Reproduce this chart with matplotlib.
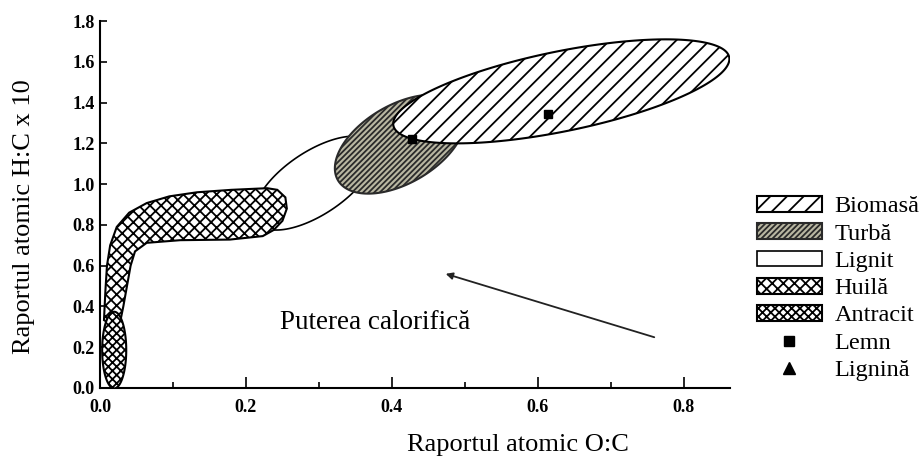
import numpy as np
import matplotlib
matplotlib.use('Agg')
import matplotlib.pyplot as plt
from matplotlib.patches import Polygon, Patch
from matplotlib.lines import Line2D

plt.rcParams['font.family'] = ['Liberation Serif', 'DejaVu Serif']
plt.rcParams['hatch.linewidth'] = 1.3

# Regions given as ellipses: centre, semi-axis vector 1, semi-axis vector 2 (data units)
biomasa_center = (0.632, 1.455)
biomasa_axis1 = (0.230, 0.168)
biomasa_axis2 = (-0.011, 0.192)

turba_center = (0.411, 1.196)
turba_axis1 = (0.085, 0.177)
turba_axis2 = (-0.027, 0.166)

lignit_center = (0.2945, 1.005)
lignit_axis1 = (0.080, 0.190)
lignit_axis2 = (-0.023, 0.130)

antracit_center = (0.0195, 0.186)
antracit_axis1 = (0.0165, 0.0)
antracit_axis2 = (0.0, 0.188)

# Huila band outline (O:C, H:C)
huila_x = [0.0055, 0.0075, 0.0096, 0.014, 0.023, 0.040, 0.064, 0.095, 0.133, 0.180, 0.229,
           0.243, 0.254, 0.256, 0.250, 0.238, 0.223,
           0.178, 0.110, 0.064, 0.048, 0.042, 0.037, 0.032, 0.028, 0.016]
huila_y = [0.333, 0.480, 0.600, 0.700, 0.790, 0.860, 0.907, 0.940, 0.960, 0.972, 0.980,
           0.972, 0.935, 0.880, 0.820, 0.775, 0.745,
           0.728, 0.725, 0.712, 0.670, 0.600, 0.500, 0.400, 0.330, 0.310]

# Lemn points
lemn_x = [0.427, 0.614]
lemn_y = [1.221, 1.343]

# Arrow (tail -> head)
arrow_tail = (0.763, 0.245)
arrow_head = (0.470, 0.564)

x_ticks = [0.0, 0.2, 0.4, 0.6, 0.8]
y_ticks = [0.0, 0.2, 0.4, 0.6, 0.8, 1.0, 1.2, 1.4, 1.6, 1.8]

legend_labels = ['Biomasă', 'Turbă', 'Lignit', 'Huilă', 'Antracit', 'Lemn', 'Lignină']


def ellipse_points(center, a1, a2, n=200):
    t = np.linspace(0, 2 * np.pi, n)
    x = center[0] + a1[0] * np.cos(t) + a2[0] * np.sin(t)
    y = center[1] + a1[1] * np.cos(t) + a2[1] * np.sin(t)
    return np.column_stack([x, y])


fig = plt.figure(figsize=(9.23, 4.59), dpi=100)
ax = fig.add_axes([0.1083, 0.1547, 0.6825, 0.7995])

style_biomasa = dict(facecolor='white', edgecolor='black', hatch='//', linewidth=1.5)
style_turba = dict(facecolor='#b9b7a2', edgecolor='#2a2a2a', hatch='//////', linewidth=1.5)
style_lignit = dict(facecolor='white', edgecolor='black', linewidth=1.2)
style_huila = dict(facecolor='white', edgecolor='black', hatch='xxx', linewidth=1.5)
style_antracit = dict(facecolor='white', edgecolor='black', hatch='xxxx', linewidth=1.5)

ax.add_patch(Polygon(ellipse_points(lignit_center, lignit_axis1, lignit_axis2), closed=True, zorder=1, **style_lignit))
ax.add_patch(Polygon(np.column_stack([huila_x, huila_y]), closed=True, zorder=2, **style_huila))
ax.add_patch(Polygon(ellipse_points(antracit_center, antracit_axis1, antracit_axis2), closed=True, zorder=3, **style_antracit))
ax.add_patch(Polygon(ellipse_points(turba_center, turba_axis1, turba_axis2), closed=True, zorder=3, **style_turba))
ax.add_patch(Polygon(ellipse_points(biomasa_center, biomasa_axis1, biomasa_axis2), closed=True, zorder=4, **style_biomasa))

ax.plot(lemn_x, lemn_y, 's', color='black', markersize=6, zorder=6)

ax.annotate('', xy=arrow_head, xytext=arrow_tail,
            arrowprops=dict(arrowstyle='-|>', color='#222222', lw=1.3, mutation_scale=10))
ax.text(0.247, 0.32, 'Puterea calorifică', fontsize=19.5, va='center', ha='left')

ax.set_xlim(0, 0.863)
ax.set_ylim(0, 1.8)
ax.spines['top'].set_visible(False)
ax.spines['right'].set_visible(False)
ax.spines['left'].set_linewidth(1.5)
ax.spines['bottom'].set_linewidth(1.5)
ax.set_xticks(x_ticks)
ax.set_xticks([0.1, 0.3, 0.5, 0.7], minor=True)
ax.set_yticks(y_ticks)
ax.set_xticklabels([f'{v:.1f}' for v in x_ticks], fontweight='bold', fontsize=13)
ax.set_yticklabels([f'{v:.1f}' for v in y_ticks], fontweight='bold', fontsize=13)
ax.tick_params(axis='x', which='major', direction='in', length=8, width=1.2, pad=8)
ax.tick_params(axis='x', which='minor', direction='in', length=4, width=1.2)
ax.tick_params(axis='y', which='major', direction='in', length=5, width=1.2, pad=4)

ax.set_xlabel('Raportul atomic O:C', fontsize=19)
ax.set_ylabel('Raportul atomic H:C x 10', fontsize=19)
ax.xaxis.set_label_coords((518 - 100) / 630, -(445 - 388) / 367)
ax.yaxis.set_label_coords(-(100 - 24) / 630, (388 - 217) / 367)
ax.xaxis.label.set_va('center')
ax.yaxis.label.set_va('center')

handles = [Patch(**style_biomasa), Patch(**style_turba), Patch(**style_lignit),
           Patch(**style_huila), Patch(**style_antracit),
           Line2D([], [], marker='s', color='black', linestyle='none', markersize=7),
           Line2D([], [], marker='^', color='black', linestyle='none', markersize=8)]
fig.legend(handles, legend_labels, loc='upper left', bbox_to_anchor=(757 / 923, 1 - 196 / 459),
           frameon=False, fontsize=17.5, handlelength=2.67, handleheight=0.62,
           handletextpad=0.53, labelspacing=0.24, borderpad=0, borderaxespad=0)

fig.savefig('out.png', dpi=100)
